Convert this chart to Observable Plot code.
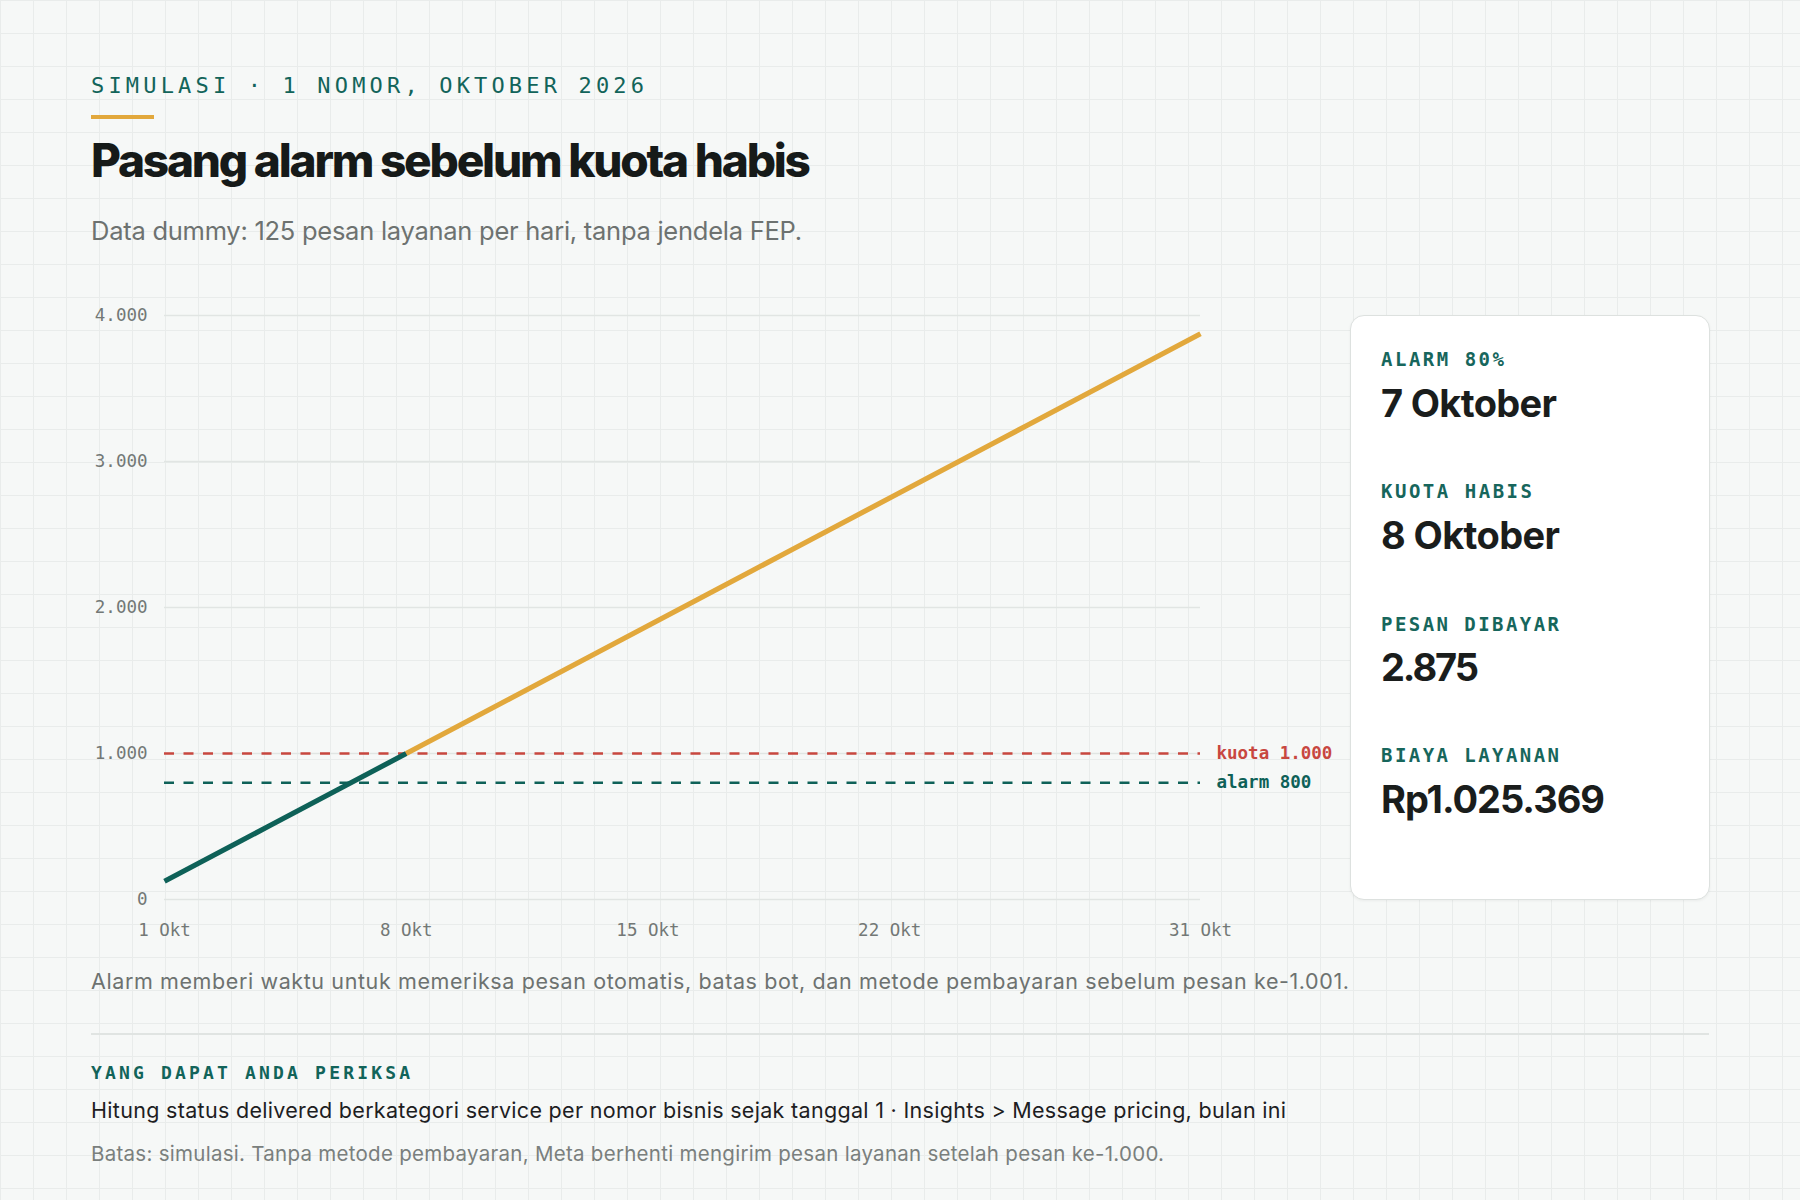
<!DOCTYPE html>
<html>
<head>
<meta charset="utf-8">
<script src="https://cdn.jsdelivr.net/npm/d3@7"></script>
<script src="https://cdn.jsdelivr.net/npm/@observablehq/plot@0.6"></script>
<style>
  html, body { margin: 0; padding: 0; }
  body {
    width: 1800px; height: 1200px; position: relative; overflow: hidden;
    background-color: #f6f8f7;
    background-image:
      linear-gradient(to right, #e9eceb 1.5px, transparent 1.5px),
      linear-gradient(to bottom, #e9eceb 1.5px, transparent 1.5px);
    background-size: 33px 33px;
    font-family: Inter, "Noto Sans", sans-serif;
  }
  .t { position: absolute; white-space: nowrap; line-height: 1; margin: 0; }
  .mono { font-family: "DejaVu Sans Mono", monospace; }
  #chart { position: absolute; left: 0; top: 280px; width: 1340px; height: 680px; }
  #chart svg { overflow: visible; }
  .card { position: absolute; left: 1350px; top: 315px; width: 360px; height: 585px; box-sizing: border-box;
          background: #ffffff; border: 1.5px solid #dde1df; border-radius: 14px;
          box-shadow: 0 1px 3px rgba(0,0,0,0.05); }
  .accent { position: absolute; left: 91px; top: 115px; width: 63px; height: 4px; background: #e2a83c; }
  .divider { position: absolute; left: 91px; top: 1033px; width: 1618px; height: 2px; background: #e0e4e2; }
</style>
</head>
<body>
<div class="accent"></div>
<div id="chart"></div>
<div class="card"></div>
<div class="divider"></div>
<div id="texts"></div>
<script>
// ---------- data ----------
const days = [1, 2, 3, 4, 5, 6, 7, 8, 9, 10, 11, 12, 13, 14, 15, 16, 17, 18, 19, 20, 21, 22, 23, 24, 25, 26, 27, 28, 29, 30, 31];
const cumulativeMessages = [125, 250, 375, 500, 625, 750, 875, 1000, 1125, 1250, 1375, 1500, 1625, 1750, 1875, 2000, 2125, 2250, 2375, 2500, 2625, 2750, 2875, 3000, 3125, 3250, 3375, 3500, 3625, 3750, 3875];
const quotaDay = 8;
const quotaValue = 1000;
const alarmValue = 800;
const quotaLabel = "kuota 1.000";
const alarmLabel = "alarm 800";
const xTicks = [1, 8, 15, 22, 31];
const xTickLabels = ["1 Okt", "8 Okt", "15 Okt", "22 Okt", "31 Okt"];
const yTicks = [0, 1000, 2000, 3000, 4000];
const yTickLabels = ["0", "1.000", "2.000", "3.000", "4.000"];
const metricLabels = ["ALARM 80%", "KUOTA HABIS", "PESAN DIBAYAR", "BIAYA LAYANAN"];
const metricValues = ["7 Oktober", "8 Oktober", "2.875", "Rp1.025.369"];
const eyebrow = "SIMULASI · 1 NOMOR, OKTOBER 2026";
const title = "Pasang alarm sebelum kuota habis";
const subtitle = "Data dummy: 125 pesan layanan per hari, tanpa jendela FEP.";
const caption = "Alarm memberi waktu untuk memeriksa pesan otomatis, batas bot, dan metode pembayaran sebelum pesan ke-1.001.";
const checkHeading = "YANG DAPAT ANDA PERIKSA";
const checkText = "Hitung status delivered berkategori service per nomor bisnis sejak tanggal 1 · Insights > Message pricing, bulan ini";
const limitText = "Batas: simulasi. Tanpa metode pembayaran, Meta berhenti mengirim pesan layanan setelah pesan ke-1.000.";

// ---------- styles ----------
const TEAL = "#0e6158";
const ORANGE = "#e2a83c";
const RED = "#c8473f";

// ---------- chart ----------
const rows = days.map((d, i) => ({day: d, value: cumulativeMessages[i]}));
const beforeQuota = rows.filter(r => r.day <= quotaDay);
const afterQuota = rows.filter(r => r.day >= quotaDay);
const lastDay = days[days.length - 1];
const quotaRow = [{day: lastDay, value: quotaValue, label: quotaLabel}];
const alarmRow = [{day: lastDay, value: alarmValue, label: alarmLabel}];

const chart = Plot.plot({
  width: 1340, height: 680,
  marginLeft: 164, marginRight: 140, marginTop: 35, marginBottom: 61,
  x: {domain: [days[0], lastDay]},
  y: {domain: [0, 4000]},
  style: {fontFamily: "'DejaVu Sans Mono', monospace", fontSize: "17.5px", color: "#737876", background: "transparent", overflow: "visible"},
  marks: [
    Plot.gridY(yTicks, {stroke: "#e1e5e3", strokeOpacity: 1, strokeWidth: 1.5}),
    Plot.axisY(yTicks, {tickSize: 0, tickPadding: 17, label: null, tickFormat: v => yTickLabels[yTicks.indexOf(v)]}),
    Plot.axisX(xTicks, {tickSize: 0, tickPadding: 24, label: null, tickFormat: v => xTickLabels[xTicks.indexOf(v)]}),
    Plot.ruleY(quotaRow, {y: "value", stroke: RED, strokeWidth: 2.5, strokeDasharray: "10,9.5"}),
    Plot.ruleY(alarmRow, {y: "value", stroke: TEAL, strokeWidth: 2.5, strokeDasharray: "10,9.5"}),
    Plot.line(beforeQuota, {x: "day", y: "value", stroke: TEAL, strokeWidth: 5.2, strokeLinecap: "butt"}),
    Plot.line(afterQuota, {x: "day", y: "value", stroke: ORANGE, strokeWidth: 5.2, strokeLinecap: "butt"}),
    Plot.text(quotaRow, {x: "day", y: "value", text: "label", dx: 16, textAnchor: "start", fill: RED, fontWeight: "bold"}),
    Plot.text(alarmRow, {x: "day", y: "value", text: "label", dx: 16, textAnchor: "start", fill: TEAL, fontWeight: "bold"})
  ]
});
document.getElementById("chart").appendChild(chart);

// ---------- texts ----------
const holder = document.getElementById("texts");
function addText(text, opts) {
  const el = document.createElement("div");
  el.className = "t" + (opts.mono ? " mono" : "");
  el.textContent = text;
  el.style.fontSize = opts.size + "px";
  el.style.fontWeight = opts.weight || 400;
  el.style.color = opts.color;
  el.style.left = opts.x + "px";
  el.style.top = "0px";
  holder.appendChild(el);
  el.style.letterSpacing = "0px";
  if (opts.w) {
    const range = document.createRange();
    range.selectNodeContents(el);
    const w = range.getBoundingClientRect().width;
    const n = text.length;
    el.style.letterSpacing = ((opts.w - w) / (n - 1)) + "px";
  }
  const marker = document.createElement("span");
  marker.style.cssText = "display:inline-block;width:0;height:0;vertical-align:baseline;";
  el.appendChild(marker);
  const off = marker.getBoundingClientRect().top - el.getBoundingClientRect().top;
  el.style.top = (opts.base - off) + "px";
  marker.remove();
  return el;
}

addText(eyebrow, {x: 91, base: 92.7, size: 22, color: "#12645a", mono: true, w: 553});
addText(title, {x: 91, base: 176.7, size: 46, weight: 800, color: "#161a19", w: 720});
addText(subtitle, {x: 91, base: 240, size: 25.5, color: "#6d7270", w: 711});

const labelBases = [366, 498, 630.7, 762];
const valueBases = [417.3, 549, 681, 812.7];
const labelWidths = [123, 151, 178, 178];
const valueWidths = [176, 179, 98, 224];
metricLabels.forEach((t, i) => addText(t, {x: 1381, base: labelBases[i], size: 19, weight: 700, color: "#17665c", mono: true, w: labelWidths[i]}));
metricValues.forEach((t, i) => addText(t, {x: 1381, base: valueBases[i], size: 38, weight: 700, color: "#1a1d1c", w: valueWidths[i]}));

addText(caption, {x: 91, base: 989.3, size: 21.5, color: "#6d7270", w: 1258});
addText(checkHeading, {x: 91, base: 1079.3, size: 18, weight: 700, color: "#12645a", mono: true, w: 319});
addText(checkText, {x: 91, base: 1118.3, size: 21.5, color: "#1d201f", w: 1195});
addText(limitText, {x: 91, base: 1160.7, size: 20.5, color: "#7a7f7d", w: 1073});
</script>
</body>
</html>
